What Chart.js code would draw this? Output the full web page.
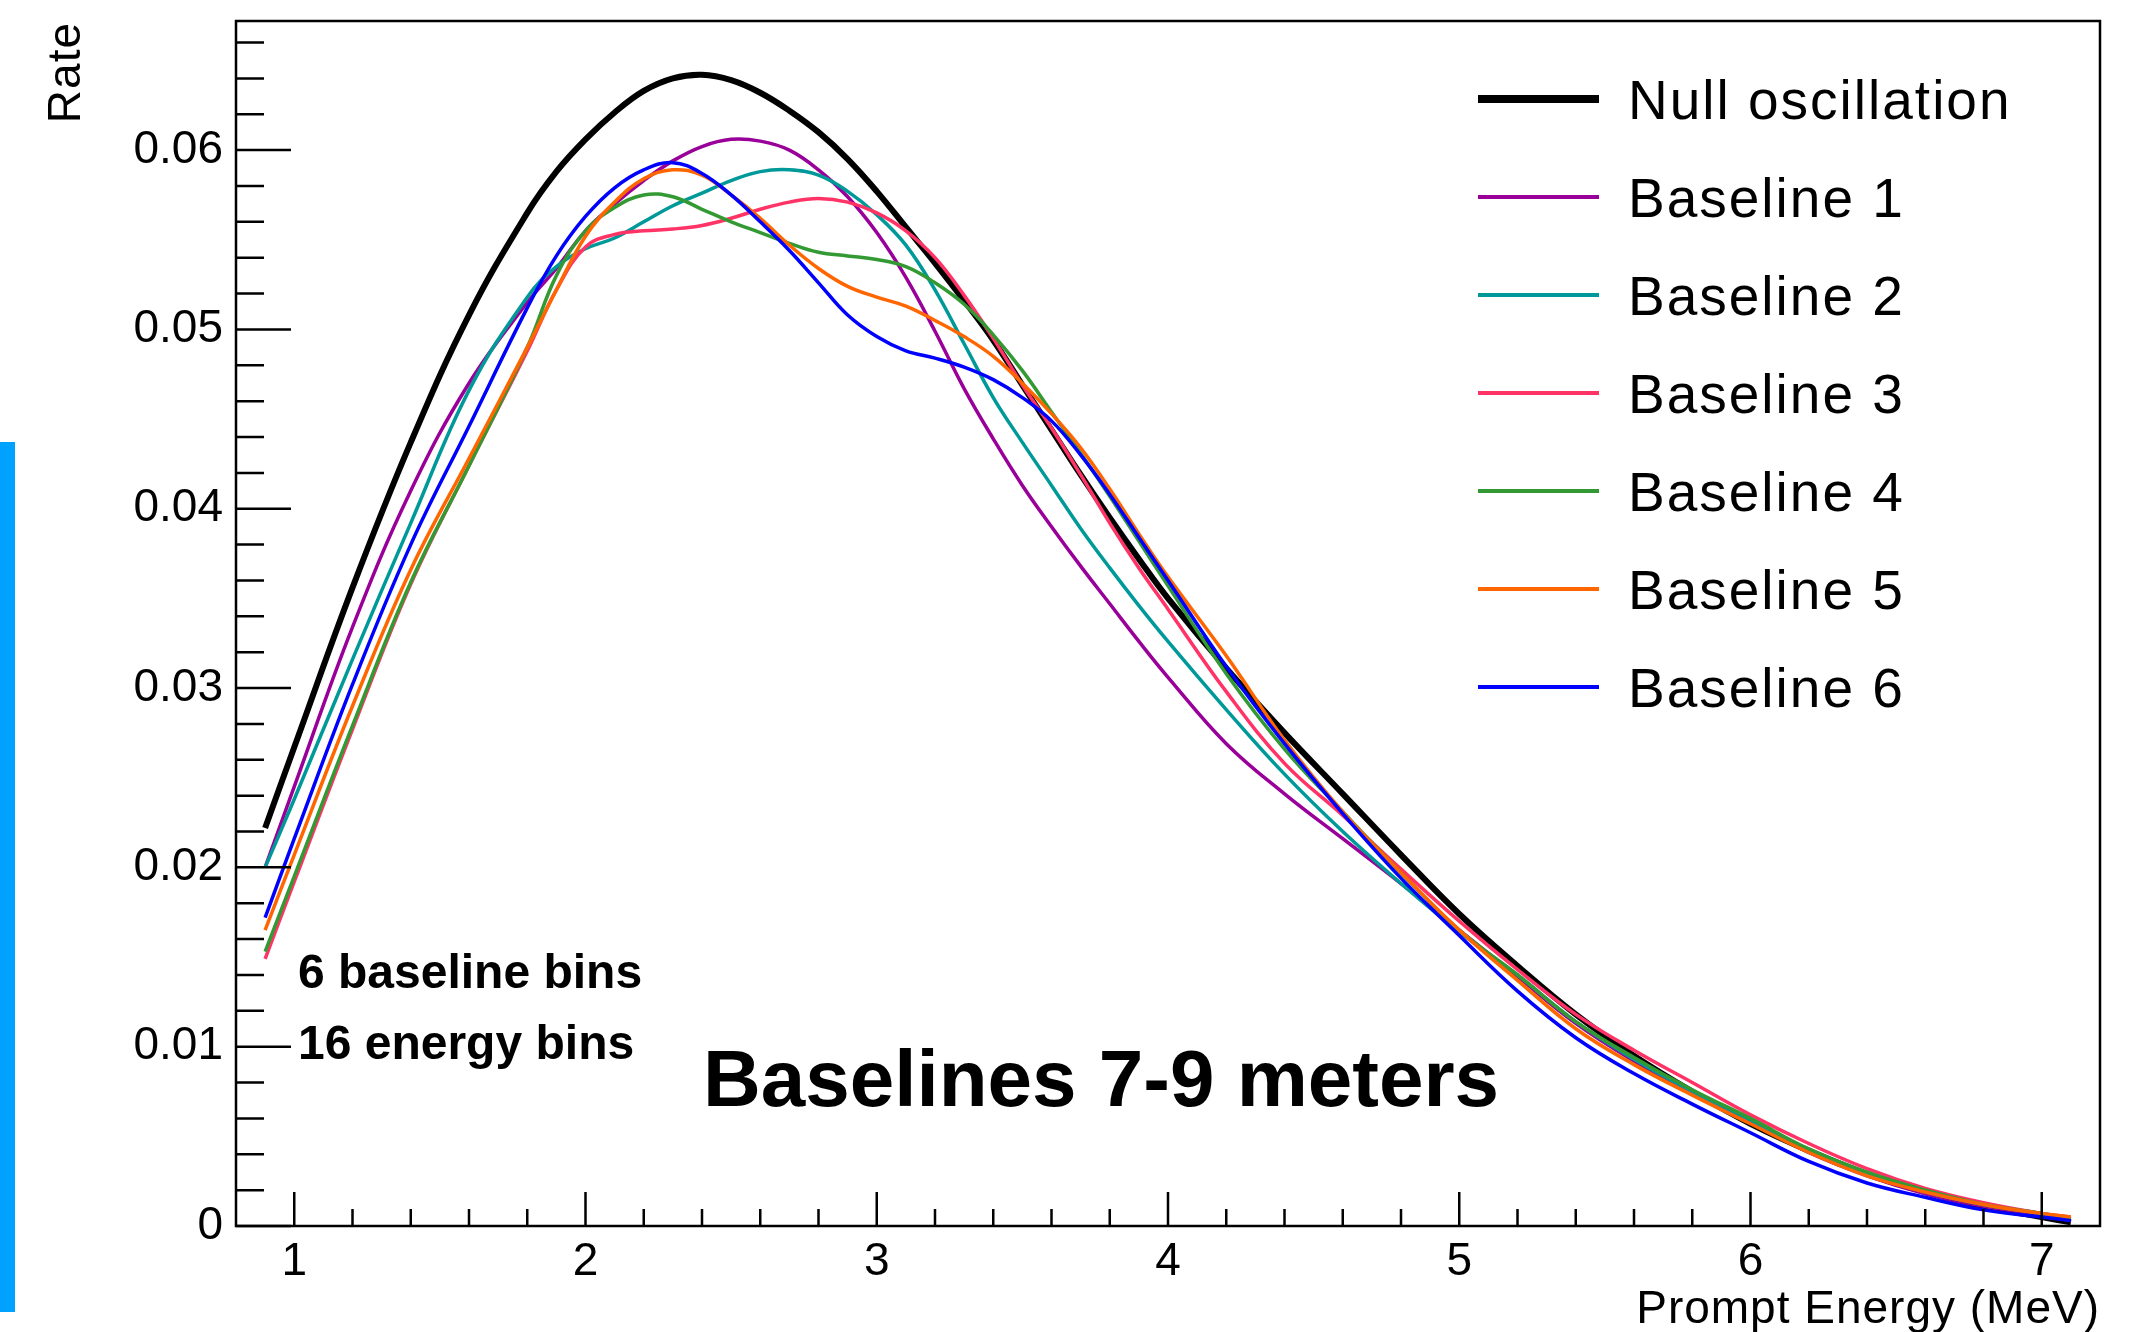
<!DOCTYPE html>
<html>
<head>
<meta charset="utf-8">
<title>Baselines 7-9 meters</title>
<script src="https://cdn.jsdelivr.net/npm/chart.js@4.4.1/dist/chart.umd.min.js"></script>
<style>
  html, body { margin: 0; padding: 0; background: #ffffff; }
  canvas { display: block; }
</style>
</head>
<body>
<canvas id="spectrum" width="2152" height="1332"></canvas>
<script>
// Prompt energy (MeV) at which each curve was read
const energies = [0.9, 1.0, 1.2, 1.4, 1.6, 1.8, 1.9, 2.0, 2.1, 2.2, 2.3, 2.4, 2.5, 2.6, 2.7, 2.8, 2.9,
                  3.0, 3.1, 3.2, 3.3, 3.4, 3.5, 3.6, 3.7, 3.8, 3.9, 4.0, 4.2, 4.4, 4.6, 4.8, 5.0,
                  5.2, 5.4, 5.6, 5.8, 6.0, 6.2, 6.4, 6.6, 6.8, 7.0, 7.1];

const nullOsc   = [0.0222, 0.0267, 0.0356, 0.0437, 0.0508, 0.0565, 0.0588, 0.0606, 0.0621, 0.0633, 0.0640, 0.0642, 0.0639, 0.0632, 0.0622, 0.0610, 0.0595,
                   0.0577, 0.0557, 0.0537, 0.0516, 0.0494, 0.0469, 0.0444, 0.0419, 0.0395, 0.0372, 0.0350, 0.0311, 0.0275, 0.0241, 0.0207, 0.0174,
                   0.0145, 0.0118, 0.0095, 0.0075, 0.0057, 0.0042, 0.0029, 0.0019, 0.0011, 0.0005, 0.0002];
const baseline1 = [0.0200, 0.0245, 0.0334, 0.0410, 0.0470, 0.0515, 0.0534, 0.0555, 0.0570, 0.0583, 0.0594, 0.0602, 0.0606, 0.0605, 0.0600, 0.0589, 0.0574,
                   0.0554, 0.0529, 0.0499, 0.0467, 0.0439, 0.0413, 0.0390, 0.0368, 0.0347, 0.0326, 0.0306, 0.0269, 0.0241, 0.0216, 0.0191, 0.0165,
                   0.0139, 0.0113, 0.0092, 0.0074, 0.0058, 0.0041, 0.0028, 0.0018, 0.0011, 0.0006, 0.0003];
const baseline2 = [0.0200, 0.0238, 0.0316, 0.0392, 0.0466, 0.0518, 0.0535, 0.0545, 0.0551, 0.0560, 0.0569, 0.0576, 0.0583, 0.0588, 0.0589, 0.0586, 0.0577,
                   0.0564, 0.0547, 0.0522, 0.0492, 0.0462, 0.0437, 0.0413, 0.0389, 0.0367, 0.0346, 0.0326, 0.0288, 0.0252, 0.0220, 0.0191, 0.0164,
                   0.0140, 0.0114, 0.0093, 0.0075, 0.0059, 0.0042, 0.0029, 0.0019, 0.0012, 0.0007, 0.0004];
const baseline3 = [0.0149, 0.0192, 0.0277, 0.0358, 0.0424, 0.0488, 0.0522, 0.0546, 0.0553, 0.0555, 0.0556, 0.0558, 0.0562, 0.0567, 0.0571, 0.0573, 0.0571,
                   0.0565, 0.0555, 0.0540, 0.0519, 0.0495, 0.0469, 0.0445, 0.0419, 0.0392, 0.0367, 0.0344, 0.0298, 0.0258, 0.0229, 0.0199, 0.0170,
                   0.0143, 0.0118, 0.0098, 0.0080, 0.0062, 0.0046, 0.0032, 0.0021, 0.0013, 0.0007, 0.0005];
const baseline4 = [0.0153, 0.0195, 0.0279, 0.0359, 0.0424, 0.0490, 0.0530, 0.0555, 0.0568, 0.0575, 0.0574, 0.0567, 0.0560, 0.0554, 0.0548, 0.0543, 0.0541,
                   0.0539, 0.0535, 0.0526, 0.0514, 0.0497, 0.0477, 0.0454, 0.0431, 0.0407, 0.0382, 0.0357, 0.0308, 0.0266, 0.0231, 0.0197, 0.0165,
                   0.0140, 0.0114, 0.0094, 0.0076, 0.0060, 0.0043, 0.0030, 0.0020, 0.0012, 0.0007, 0.0004];
const baseline5 = [0.0165, 0.0207, 0.0290, 0.0366, 0.0428, 0.0490, 0.0522, 0.0552, 0.0571, 0.0584, 0.0589, 0.0586, 0.0575, 0.0562, 0.0547, 0.0534, 0.0524,
                   0.0518, 0.0513, 0.0505, 0.0496, 0.0485, 0.0470, 0.0453, 0.0434, 0.0411, 0.0386, 0.0362, 0.0318, 0.0271, 0.0231, 0.0197, 0.0165,
                   0.0137, 0.0110, 0.0090, 0.0073, 0.0057, 0.0041, 0.0028, 0.0019, 0.0012, 0.0007, 0.0005];
const baseline6 = [0.0172, 0.0216, 0.0302, 0.0380, 0.0446, 0.0512, 0.0541, 0.0563, 0.0579, 0.0589, 0.0593, 0.0587, 0.0575, 0.0560, 0.0544, 0.0526, 0.0508,
                   0.0496, 0.0488, 0.0484, 0.0479, 0.0472, 0.0462, 0.0449, 0.0430, 0.0408, 0.0384, 0.0360, 0.0312, 0.0269, 0.0230, 0.0194, 0.0162,
                   0.0131, 0.0105, 0.0085, 0.0068, 0.0052, 0.0036, 0.0024, 0.0016, 0.0009, 0.0005, 0.0003];

const seriesLabels = ['Null oscillation', 'Baseline 1', 'Baseline 2', 'Baseline 3', 'Baseline 4', 'Baseline 5', 'Baseline 6'];
const xTickValues = [1, 2, 3, 4, 5, 6, 7];
const yTickValues = [0, 0.01, 0.02, 0.03, 0.04, 0.05, 0.06];
const xAxisTitle = 'Prompt Energy (MeV)';
const yAxisTitle = 'Rate';
const noteLines = ['6 baseline bins', '16 energy bins'];
const plotTitle = 'Baselines 7-9 meters';

// looks
const FONT = '"Liberation Sans", Arial, Helvetica, sans-serif';
const lineColors = ['#000000', '#990099', '#009999', '#ff3366', '#339933', '#ff6600', '#0000ff'];
const lineWidths = [6, 3.5, 3.5, 3.5, 3.5, 3.5, 3.5];
const legendLineWidths = [8, 4, 4, 4, 4, 4, 4];
const xMinorStep = 0.2;
const yMinorStep = 0.002;

Chart.defaults.font.family = FONT;
Chart.defaults.color = '#000000';

function toPoints(values) {
    return energies.map((e, i) => ({ x: e, y: values[i] }));
}

const allSeries = [nullOsc, baseline1, baseline2, baseline3, baseline4, baseline5, baseline6];

// ROOT draws the null curve first, baseline 6 last (on top)
const datasets = allSeries.map((values, i) => ({
    label: seriesLabels[i],
    data: toPoints(values),
    borderColor: lineColors[i],
    backgroundColor: lineColors[i],
    borderWidth: lineWidths[i],
    pointRadius: 0,
    fill: false,
    tension: 0.4,
    order: allSeries.length - i
}));

// frame, inward ticks, titles, notes and legend in the ROOT style
const rootLook = {
    id: 'rootLook',
    beforeDraw(chart) {
        const ctx = chart.ctx;
        ctx.save();
        ctx.fillStyle = '#ffffff';
        ctx.fillRect(0, 0, chart.width, chart.height);
        // blue strip at the left border of the slide
        ctx.fillStyle = '#00a2ff';
        ctx.fillRect(0, 442, 15, 870);
        ctx.restore();
    },
    afterDatasetsDraw(chart) {
        const { ctx, chartArea: a, scales: { x, y } } = chart;
        ctx.save();
        ctx.strokeStyle = '#000000';
        ctx.lineWidth = 2.5;
        ctx.strokeRect(a.left, a.top, a.right - a.left, a.bottom - a.top);

        ctx.beginPath();
        for (let k = 0; k * yMinorStep <= y.max + 1e-9; k++) {
            const py = y.getPixelForValue(k * yMinorStep);
            const len = k % 5 === 0 ? 55 : 28;
            ctx.moveTo(a.left, py);
            ctx.lineTo(a.left + len, py);
        }
        const kStart = Math.ceil(x.min / xMinorStep - 1e-6);
        for (let k = kStart; k * xMinorStep <= x.max + 1e-9; k++) {
            const v = k * xMinorStep;
            const px = x.getPixelForValue(v);
            if (px - a.left < 3 || a.right - px < 3) continue;
            const major = Math.abs(v - Math.round(v)) < 1e-6;
            ctx.moveTo(px, a.bottom);
            ctx.lineTo(px, a.bottom - (major ? 34 : 17));
        }
        ctx.stroke();
        ctx.restore();
    },
    afterDraw(chart) {
        const { ctx, chartArea: a } = chart;
        ctx.save();
        ctx.fillStyle = '#000000';
        if ('letterSpacing' in ctx) ctx.letterSpacing = '1px';

        // axis titles
        ctx.font = '46px ' + FONT;
        ctx.textAlign = 'right';
        ctx.textBaseline = 'alphabetic';
        ctx.fillText(xAxisTitle, a.right, 1323);
        ctx.save();
        ctx.translate(80, a.top + 1);
        ctx.rotate(-Math.PI / 2);
        ctx.fillText(yAxisTitle, 0, 0);
        ctx.restore();

        // notes
        if ('letterSpacing' in ctx) ctx.letterSpacing = '0px';
        ctx.textAlign = 'left';
        ctx.font = 'bold 48px ' + FONT;
        ctx.fillText(noteLines[0], 298, 988);
        ctx.fillText(noteLines[1], 298, 1059);
        ctx.font = 'bold 80px ' + FONT;
        ctx.fillText(plotTitle, 703, 1106);

        // legend
        if ('letterSpacing' in ctx) ctx.letterSpacing = '2px';
        ctx.font = '55px ' + FONT;
        chart.data.datasets.forEach((ds, i) => {
            const rowY = 99 + i * 98;
            ctx.strokeStyle = ds.borderColor;
            ctx.lineWidth = legendLineWidths[i];
            ctx.beginPath();
            ctx.moveTo(1478, rowY);
            ctx.lineTo(1599, rowY);
            ctx.stroke();
            ctx.fillText(ds.label, 1628, rowY + 20);
        });
        ctx.restore();
    }
};

new Chart(document.getElementById('spectrum'), {
    type: 'line',
    data: { datasets },
    options: {
        responsive: false,
        animation: false,
        devicePixelRatio: 1,
        events: [],
        layout: { padding: { left: 0, top: 21, right: 52, bottom: 0 } },
        plugins: { legend: { display: false }, tooltip: { enabled: false } },
        scales: {
            x: {
                type: 'linear',
                min: 0.8,
                max: 7.2,
                grid: { display: false, drawTicks: false },
                border: { display: false },
                afterBuildTicks: (s) => { s.ticks = xTickValues.map(v => ({ value: v })); },
                afterFit: (s) => { s.height = 106; s.paddingLeft = 0; s.paddingRight = 0; },
                ticks: {
                    padding: 13,
                    maxRotation: 0,
                    autoSkip: false,
                    font: { size: 46, lineHeight: 1 },
                    callback: (v) => String(v)
                }
            },
            y: {
                type: 'linear',
                min: 0,
                max: 0.0672,
                grid: { display: false, drawTicks: false },
                border: { display: false },
                afterBuildTicks: (s) => { s.ticks = yTickValues.map(v => ({ value: v })); },
                afterFit: (s) => { s.width = 236; s.paddingTop = 0; s.paddingBottom = 0; },
                ticks: {
                    padding: 13,
                    autoSkip: false,
                    font: { size: 46, lineHeight: 1 },
                    callback: (v) => (v === 0 ? '0' : v.toFixed(2))
                }
            }
        }
    },
    plugins: [rootLook]
});
</script>
</body>
</html>
